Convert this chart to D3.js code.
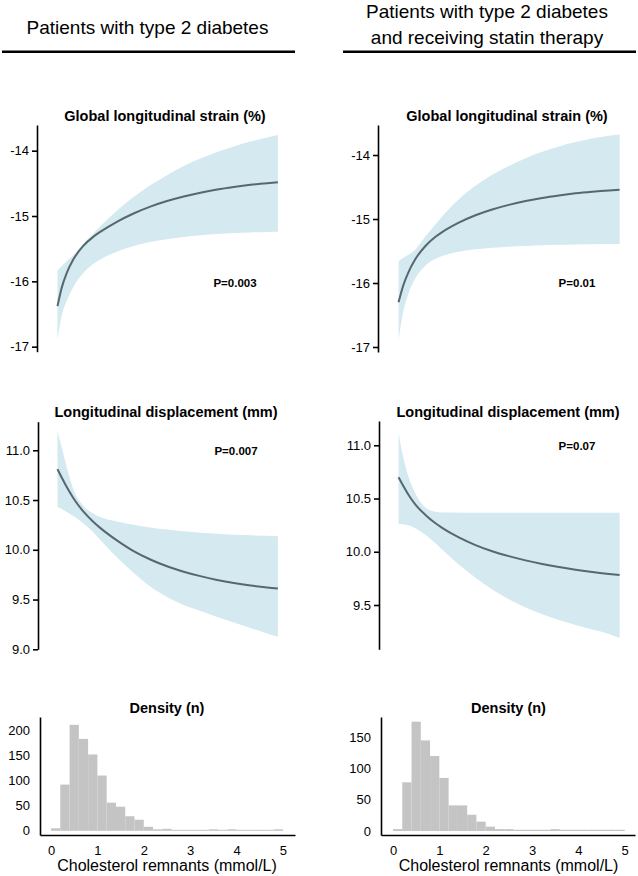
<!DOCTYPE html>
<html><head><meta charset="utf-8">
<script src="https://cdn.jsdelivr.net/npm/d3@7"></script>
<style>
body{margin:0;background:#fff}
svg{display:block}
text{font-family:"Liberation Sans",Arial,Helvetica,sans-serif;fill:#000}
</style>
</head><body>
<svg id="chart" width="638" height="876"></svg>
<script>
// ---------- DATA ----------
const headerLeft = ["Patients with type 2 diabetes"];
const headerRight = ["Patients with type 2 diabetes", "and receiving statin therapy"];
const titleGLS = "Global longitudinal strain (%)";
const titleLD = "Longitudinal displacement (mm)";
const titleDensity = "Density (n)";
const xTitle = "Cholesterol remnants (mmol/L)";
const xTicks = [0, 1, 2, 3, 4, 5];
const glsTicks = [-17, -16, -15, -14];
const ldTicksLeft = [9.0, 9.5, 10.0, 10.5, 11.0];
const ldTicksRight = [9.5, 10.0, 10.5, 11.0];
const densTicksLeft = [0, 50, 100, 150, 200];
const densTicksRight = [0, 50, 100, 150];
const pValues = ["P=0.003", "P=0.007", "P=0.01", "P=0.07"];

// spline x grid (mmol/L)
const xsLeft  = [0.14, 0.23, 0.34, 0.48, 0.70, 0.91, 1.06, 1.42, 1.78, 2.14, 2.50, 2.86, 3.22, 3.58, 3.94, 4.30, 4.66, 4.89];
const xsRight = [0.12, 0.22, 0.33, 0.48, 0.70, 0.91, 1.06, 1.42, 1.78, 2.14, 2.50, 2.86, 3.22, 3.58, 3.94, 4.30, 4.66, 4.89];

// GLS, all patients
const glsAllFit = [-16.38, -16.10, -15.87, -15.667, -15.454, -15.319, -15.244, -15.089, -14.962, -14.857, -14.771, -14.701, -14.643, -14.594, -14.555, -14.522, -14.497, -14.485];
const glsAllHi  = [-15.83, -15.77, -15.69, -15.60, -15.42, -15.27, -15.16, -14.92, -14.71, -14.53, -14.375, -14.235, -14.12, -14.02, -13.935, -13.86, -13.80, -13.76];
const glsAllLo  = [-16.89, -16.53, -16.299, -16.089, -15.869, -15.733, -15.665, -15.546, -15.460, -15.399, -15.354, -15.321, -15.296, -15.276, -15.262, -15.251, -15.244, -15.242];
// LD, all patients
const ldAllFit = [10.81, 10.727, 10.630, 10.521, 10.383, 10.282, 10.22, 10.094, 9.986, 9.902, 9.834, 9.780, 9.735, 9.697, 9.666, 9.641, 9.621, 9.611];
const ldAllHi  = [11.19, 11.03, 10.83, 10.61, 10.44, 10.365, 10.33, 10.285, 10.252, 10.225, 10.203, 10.186, 10.172, 10.161, 10.152, 10.145, 10.14, 10.137];
const ldAllLo  = [10.43, 10.41, 10.38, 10.34, 10.265, 10.175, 10.10, 9.925, 9.77, 9.63, 9.525, 9.445, 9.385, 9.325, 9.27, 9.215, 9.16, 9.125];
// GLS, statin
const glsStatFit = [-16.30, -16.04, -15.837, -15.630, -15.421, -15.282, -15.204, -15.056, -14.941, -14.851, -14.779, -14.720, -14.671, -14.632, -14.599, -14.574, -14.554, -14.544];
const glsStatHi  = [-15.66, -15.61, -15.56, -15.48, -15.27, -15.09, -14.96, -14.69, -14.48, -14.31, -14.17, -14.05, -13.95, -13.865, -13.795, -13.74, -13.70, -13.68];
const glsStatLo  = [-16.89, -16.45, -16.17, -15.93, -15.73, -15.625, -15.578, -15.51, -15.472, -15.448, -15.432, -15.42, -15.411, -15.404, -15.399, -15.395, -15.392, -15.39];
// LD, statin
const ldStatFit = [10.70, 10.62, 10.538, 10.445, 10.346, 10.270, 10.225, 10.135, 10.063, 10.005, 9.959, 9.919, 9.885, 9.856, 9.831, 9.809, 9.791, 9.781];
const ldStatHi  = [11.11, 10.89, 10.71, 10.55, 10.415, 10.375, 10.368, 10.367, 10.367, 10.367, 10.367, 10.367, 10.367, 10.367, 10.367, 10.367, 10.367, 10.367];
const ldStatLo  = [10.262, 10.258, 10.248, 10.22, 10.16, 10.082, 10.022, 9.88, 9.755, 9.645, 9.553, 9.477, 9.413, 9.36, 9.313, 9.27, 9.228, 9.19];

// histogram bins (0.2 mmol/L wide)
const binStarts = [0, 0.2, 0.4, 0.6, 0.8, 1.0, 1.2, 1.4, 1.6, 1.8, 2.0, 2.2, 2.4, 2.6, 2.8, 3.0, 3.2, 3.4, 3.6, 3.8, 4.0, 4.2, 4.4, 4.6, 4.8];
const binWidth = 0.2;
const countsAll  = [5, 92, 211, 183, 152, 110, 56, 48, 29, 22, 8, 3, 4, 2, 2, 2, 2, 3, 2, 3, 2, 2, 2, 2, 3];
const countsStat = [3, 78, 175, 145, 120, 85, 41, 41, 26, 15, 7, 3, 3, 2, 2, 2, 2, 3, 2, 2, 2, 2, 2, 2, 2];

// ---------- STYLE ----------
const BAND = "#d4e9f0";
const LINE = "#56686f";
const BAR = "#c4c4c4";
const AX = "#000";

const svg = d3.select("#chart");

function header(lines, cx, baselines, x1, x2) {
  lines.forEach((t, i) => {
    svg.append("text").attr("x", cx).attr("y", baselines[i]).attr("text-anchor", "middle")
      .style("font-size", "19px").text(t);
  });
  svg.append("line").attr("x1", x1).attr("x2", x2).attr("y1", 51.7).attr("y2", 51.7)
    .attr("stroke", "#000").attr("stroke-width", 2.6);
}
header(headerLeft, 147.5, [34], 2, 295);
header(headerRight, 487, [18, 44], 343, 636);

const xL = d3.scaleLinear().domain([-0.237, 5.259]).range([40, 295]);
const xR = d3.scaleLinear().domain([-0.259, 5.222]).range([381, 635]);

function yAxis(g, y, ticks, fmt, tickSize, pad) {
  const ax = d3.axisLeft(y).tickValues(ticks).tickFormat(fmt).tickSizeOuter(0)
    .tickSizeInner(tickSize).tickPadding(pad);
  g.call(ax);
  g.selectAll("path.domain").attr("stroke", AX).attr("stroke-width", 1.6);
  g.selectAll(".tick line").attr("stroke", AX).attr("stroke-width", 1.6);
  g.selectAll(".tick text").style("font-size", "13px")
    .style("font-family", '"Liberation Sans",Arial,sans-serif').attr("fill", "#000");
}

function curvePanel(o) {
  const x = o.x.copy().range(o.x.range().map(v => v - o.axisX));
  const g = svg.append("g").attr("transform", `translate(${o.axisX},0)`);
  const y = d3.scaleLinear().domain(o.yDom).range(o.yRange);
  const pts = o.xs.map((xv, i) => ({x: xv, f: o.fit[i], lo: o.lo[i], hi: o.hi[i]}));
  g.append("path").datum(pts).attr("fill", BAND)
    .attr("d", d3.area().x(d => x(d.x)).y0(d => y(d.lo)).y1(d => y(d.hi)).curve(d3.curveMonotoneX));
  g.append("path").datum(pts).attr("fill", "none").attr("stroke", LINE).attr("stroke-width", 2)
    .attr("d", d3.line().x(d => x(d.x)).y(d => y(d.f)).curve(d3.curveMonotoneX));
  yAxis(g.append("g"), y, o.ticks, o.fmt, 5, 3);
  svg.append("text").attr("x", o.titleX).attr("y", o.titleY).attr("text-anchor", "middle")
    .style("font-size", "14.5px").style("font-weight", "bold").text(o.title);
  svg.append("text").attr("x", o.pX).attr("y", o.pY).attr("text-anchor", "middle")
    .style("font-size", "11.5px").style("font-weight", "bold").text(o.p);
}

const fmtInt = d => String(d);
const fmt1 = d => d.toFixed(1);

curvePanel({x: xL, axisX: 37, xs: xsLeft, fit: glsAllFit, lo: glsAllLo, hi: glsAllHi,
  yDom: [-17.077, -13.607], yRange: [351.7, 125], ticks: glsTicks, fmt: fmtInt,
  title: titleGLS, titleX: 165, titleY: 121, p: pValues[0], pX: 235, pY: 287});
curvePanel({x: xR, axisX: 378, xs: xsRight, fit: glsStatFit, lo: glsStatLo, hi: glsStatHi,
  yDom: [-17.078, -13.531], yRange: [352, 125], ticks: glsTicks, fmt: fmtInt,
  title: titleGLS, titleX: 507, titleY: 121, p: pValues[2], pX: 577, pY: 287});
curvePanel({x: xL, axisX: 38, xs: xsLeft, fit: ldAllFit, lo: ldAllLo, hi: ldAllHi,
  yDom: [9.0, 11.287], yRange: [649.3, 421.7], ticks: ldTicksLeft, fmt: fmt1,
  title: titleLD, titleX: 166, titleY: 417, p: pValues[1], pX: 236, pY: 455});
curvePanel({x: xR, axisX: 379, xs: xsRight, fit: ldStatFit, lo: ldStatLo, hi: ldStatHi,
  yDom: [9.084, 11.228], yRange: [649.3, 421], ticks: ldTicksRight, fmt: fmt1,
  title: titleLD, titleX: 508, titleY: 417, p: pValues[3], pX: 577, pY: 450});

function histPanel(o) {
  const x = o.x;
  const y = d3.scaleLinear().domain(o.yDom).range([835, 717]);
  svg.append("g").selectAll("rect").data(binStarts.map((b, i) => ({b, c: o.counts[i]})))
    .join("rect")
    .attr("x", d => x(d.b)).attr("width", d => x(d.b + binWidth) - x(d.b))
    .attr("y", d => y(d.c)).attr("height", d => y(0) - y(d.c))
    .attr("fill", BAR);
  const gy = svg.append("g").attr("transform", `translate(${x.range()[0]},0)`);
  yAxis(gy, y, o.ticks, fmtInt, 0, 10);
  const gx = svg.append("g").attr("transform", `translate(0,835)`);
  gx.call(d3.axisBottom(x).tickValues(xTicks).tickFormat(fmtInt).tickSizeOuter(0).tickSizeInner(0).tickPadding(10.5));
  gx.selectAll("path.domain").attr("stroke", AX).attr("stroke-width", 1.6);
  gx.selectAll(".tick text").style("font-size", "13px")
    .style("font-family", '"Liberation Sans",Arial,sans-serif').attr("fill", "#000");
  svg.append("text").attr("x", o.cx).attr("y", 713).attr("text-anchor", "middle")
    .style("font-size", "14.5px").style("font-weight", "bold").text(titleDensity);
  svg.append("text").attr("x", o.cx).attr("y", 871).attr("text-anchor", "middle")
    .style("font-size", "16px").text(xTitle);
}
histPanel({x: xL, counts: countsAll, yDom: [-8.35, 226.6], ticks: densTicksLeft, cx: 167});
histPanel({x: xR, counts: countsStat, yDom: [-6.4, 182.5], ticks: densTicksRight, cx: 508.5});
</script>
</body></html>
